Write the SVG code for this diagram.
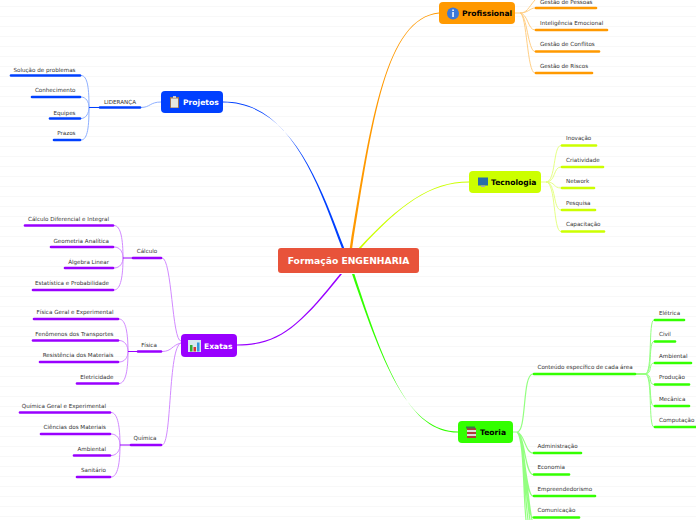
<svg xmlns="http://www.w3.org/2000/svg" width="696" height="520" viewBox="0 0 696 520">
<defs>
<style>
text{font-family:"DejaVu Sans",Verdana,sans-serif}
.t{font-size:5.6px;fill:#333}
.e{text-anchor:end}
.m{text-anchor:middle}
.n{font-size:7.6px;font-weight:bold}
.w{fill:#fff}
.k{fill:#000}
.c{fill:none;stroke-width:1}
.b{fill:none;stroke-width:2.6;stroke-linecap:round}
.blue{stroke:#0040ff}.org{stroke:#ff9900}.lim{stroke:#ccff00}.pur{stroke:#9900ff}.grn{stroke:#33ff00}
.lblue{stroke:#8fb0ff}.lorg{stroke:#ffcf85}.llim{stroke:#e6ff85}.lpur{stroke:#d28aff}.lgrn{stroke:#93ff80}
</style>
<pattern id="grid" width="696" height="10" patternUnits="userSpaceOnUse" y="6"><rect width="696" height="1" fill="#f8f8f8"/></pattern>
</defs>
<rect width="696" height="520" fill="#fff"/>
<rect width="696" height="520" fill="url(#grid)"/>
<g id="connectors">
<path fill="#0040ff" d="M341.800 248C317 180 289 101.400 223 101.400V102.600C289.500 102.600 318.500 180 344.200 248Z"/>
<path fill="#ff9900" d="M349.800 248C371 120 385.500 18 439 12.400V13.600C386 18.500 372.500 120 352.200 248Z"/>
<path fill="#ccff00" d="M358.800 248C399 205 430 181.400 469 181.400V182.600C430 182.600 400.500 205 361.200 248Z"/>
<path fill="#9900ff" d="M340 274C299.500 324.500 280 344.400 237 344.400V345.600C280 345.600 300.500 325.500 342 274Z"/>
<path fill="#33ff00" d="M352 274C384.500 370 410 431.400 458 431.400V432.600C410 432.600 385.500 370 354.400 274Z"/>
<path class="c lblue" d="M141 107.500C150 107.500 150 102 161 102"/>
<path class="c lblue" d="M89 107.500C89 90 88 75.500 81 75.500M89 107.500C89 102 86 97 81 97M89 107.500C89 113 86 118.500 81 118.500M89 107.500C89 125 88 140 81 140"/>
<path class="c lorg" d="M515 13H520M520 13C527 13 528 8 535 0M520 13C528 13 530 8 535 8M520 13C528 14 528 30 535 30M520 13C527 14 528 51.500 535 51.500M520 13C527 14 527 73 535 73"/>
<path class="c llim" d="M541 182H546M546 182C556 182 553 145.500 561 145.500M546 182C556 182 553 167 561 167M546 182C556 182 553 188 561 188M546 182C556 182 553 210 561 210M546 182C556 182 553 231.500 561 231.500"/>
<path class="c lpur" d="M181 341C172 341 172 258 162 258M181 343C172 345 172 351.500 162 351.500M181 343C168 347 172 445 162 445"/>
<path class="c lpur" d="M123 258C123 240 121 225.500 114 225.500M123 258C123 252 120 247 114 247M123 258C123 263 120 268 114 268M123 258C123 275 121 290 114 290"/>
<path class="c lpur" d="M128 351.500C128 334 126 319 119 319M128 351.500C128 346 125 340.500 119 340.500M128 351.500C128 357 125 362 119 362M128 351.500C128 369 126 383.500 119 383.500"/>
<path class="c lpur" d="M120 445C120 428 118 412.500 111 412.500M120 445C120 439 117 434 111 434M120 445C120 450 117 455.500 111 455.500M120 445C120 462 118 477 111 477"/>
<path class="c lgrn" style="stroke-width:1.200" d="M513 432H517M517 432C527 432 522 374 533 374M517 432C525 434 525 453 533 453M517 432C525 435 525 474.500 533 474.500M517 432C525 436 525 496 533 496M517 432C525 437 525 517.500 533 517.500M517 432C525 438 526 490 532 520M517 432C525 438 525 490 530 520M517 432C524 438 524 490 528 520M517 432C524 438 523 490 526 520"/>
<path class="c lgrn" d="M645 374C653 374 648 320 654 320M645 374C653 374 648 341.500 654 341.500M645 374C653 374 648 363 654 363M645 374C653 374 648 384.500 654 384.500M645 374C653 374 648 406 654 406M645 374C653 374 648 427 654 427"/>
<path class="grn" fill="none" stroke-width="1" d="M635 374H645"/>
<path class="pur" fill="none" stroke-width="1" d="M132 258H123M137 351.500H128M130 445H120"/>
<path class="blue" fill="none" stroke-width="1" d="M99 107.500H89"/>
</g>
<g id="central"><rect x="278" y="248" width="141" height="25" rx="3" fill="#e8533a"/><text x="348.500" y="264" class="n w m" style="font-size:9.2px">Formação ENGENHARIA</text></g>
<g id="projetos"><rect x="161" y="91" width="62" height="22" rx="4" fill="#0040ff"/>
<rect x="170" y="97" width="9" height="11" fill="#9a7355"/><rect x="171" y="98.500" width="7" height="9" fill="#e8e8e0"/><rect x="173" y="96" width="3" height="2" fill="#ccc"/>
<text x="183" y="105" class="n w">Projetos</text></g>
<g id="lideranca"><path class="b blue" d="M100 107.500H140"/><text x="120" y="103.500" class="t m">LIDERANÇA</text></g>
<g id="l1"><path class="b blue" d="M11 75.500H80"/><text x="75.500" y="71.500" class="t e">Solução de problemas</text></g>
<g id="l2"><path class="b blue" d="M32 97H80"/><text x="75.500" y="92" class="t e">Conhecimento</text></g>
<g id="l3"><path class="b blue" d="M50 118.500H80"/><text x="75.500" y="114.500" class="t e">Equipes</text></g>
<g id="l4"><path class="b blue" d="M54 140H80"/><text x="75.500" y="135" class="t e">Prazos</text></g>
<g id="profissional"><rect x="439" y="2" width="76" height="22" rx="4" fill="#ff9900"/>
<circle cx="453" cy="13.500" r="6" fill="#3b78d8"/><rect x="452.300" y="12" width="1.500" height="5" fill="#fff"/><rect x="452.300" y="9.500" width="1.500" height="1.500" fill="#fff"/>
<text x="462" y="16" class="n k">Profissional</text></g>
<g id="p1"><path class="b org" d="M536 8H596"/><text x="540" y="3.500" class="t">Gestão de Pessoas</text></g>
<g id="p2"><path class="b org" d="M536 30H607"/><text x="540" y="25" class="t">Inteligência Emocional</text></g>
<g id="p3"><path class="b org" d="M536 51.500H599"/><text x="540" y="46" class="t">Gestão de Conflitos</text></g>
<g id="p4"><path class="b org" d="M536 73H592"/><text x="540" y="68" class="t">Gestão de Riscos</text></g>
<g id="tecnologia"><rect x="469" y="171" width="72" height="22" rx="4" fill="#ccff00"/>
<rect x="478" y="177.500" width="10" height="8" fill="#2a6fa8"/><rect x="481" y="185.500" width="4" height="1.500" fill="#aaa"/>
<text x="491" y="185" class="n k">Tecnologia</text></g>
<g id="t1"><path class="b lim" d="M562 145.500H596"/><text x="566" y="140" class="t">Inovação</text></g>
<g id="t2"><path class="b lim" d="M562 167H603"/><text x="566" y="162" class="t">Criatividade</text></g>
<g id="t3"><path class="b lim" d="M562 188H594"/><text x="566" y="183" class="t">Network</text></g>
<g id="t4"><path class="b lim" d="M562 210H595"/><text x="566" y="205" class="t">Pesquisa</text></g>
<g id="t5"><path class="b lim" d="M562 231.500H604"/><text x="566" y="226" class="t">Capacitação</text></g>
<g id="exatas"><rect x="181" y="334" width="56" height="23" rx="4" fill="#9900ff"/>
<rect x="188" y="340" width="13" height="12" fill="#d8e8f0"/><rect x="190" y="345" width="2.500" height="6.500" fill="#3a3"/><rect x="193.500" y="347" width="2.500" height="4.500" fill="#d33"/><rect x="197" y="342.500" width="2.500" height="9" fill="#39d"/>
<text x="204" y="348.500" class="n w">Exatas</text></g>
<g id="calculo"><path class="b pur" d="M133 258H161"/><text x="147" y="253" class="t m">Cálculo</text></g>
<g id="c1"><path class="b pur" d="M25 225.500H113"/><text x="109" y="221" class="t e">Cálculo Diferencial e Integral</text></g>
<g id="c2"><path class="b pur" d="M51 247H113"/><text x="109" y="242.500" class="t e">Geometria Analítica</text></g>
<g id="c3"><path class="b pur" d="M65 268H113"/><text x="109" y="264" class="t e">Álgebra Linear</text></g>
<g id="c4"><path class="b pur" d="M33 290H113"/><text x="109" y="285" class="t e">Estatística e Probabilidade</text></g>
<g id="fisica"><path class="b pur" d="M138 351.500H161"/><text x="149" y="347" class="t m">Física</text></g>
<g id="f1"><path class="b pur" d="M34 319H118"/><text x="113.500" y="314" class="t e">Física Geral e Experimental</text></g>
<g id="f2"><path class="b pur" d="M33 340.500H118"/><text x="113.500" y="336" class="t e">Fenômenos dos Transportes</text></g>
<g id="f3"><path class="b pur" d="M40 362H118"/><text x="113.500" y="357" class="t e">Resistência dos Materiais</text></g>
<g id="f4"><path class="b pur" d="M77 383.500H118"/><text x="113.500" y="379" class="t e">Eletricidade</text></g>
<g id="quimica"><path class="b pur" d="M131 445H161"/><text x="145" y="440" class="t m">Química</text></g>
<g id="q1"><path class="b pur" d="M20 412.500H110"/><text x="106" y="408" class="t e">Química Geral e Experimental</text></g>
<g id="q2"><path class="b pur" d="M41 434H110"/><text x="106" y="429" class="t e">Ciências dos Materiais</text></g>
<g id="q3"><path class="b pur" d="M74 455.500H110"/><text x="106" y="451" class="t e">Ambiental</text></g>
<g id="q4"><path class="b pur" d="M77 477H110"/><text x="106" y="472" class="t e">Sanitário</text></g>
<g id="teoria"><rect x="458" y="421" width="55" height="22" rx="4" fill="#33ff00"/>
<rect x="467" y="428" width="9" height="10" fill="#b03a3a"/><rect x="467" y="430" width="9" height="2" fill="#ddd"/><rect x="467" y="434" width="9" height="2" fill="#ddd"/><rect x="466" y="426.500" width="9" height="2" fill="#3a7a4a"/>
<text x="480" y="435" class="n k">Teoria</text></g>
<g id="conteudo"><path class="b grn" d="M534 374H635"/><text x="537.500" y="369" class="t">Conteúdo específico de cada área</text></g>
<g id="e1"><path class="b grn" d="M655 320H684"/><text x="659" y="315" class="t">Elétrica</text></g>
<g id="e2"><path class="b grn" d="M655 341.500H675"/><text x="659" y="336" class="t">Civil</text></g>
<g id="e3"><path class="b grn" d="M655 363H691"/><text x="659" y="358" class="t">Ambiental</text></g>
<g id="e4"><path class="b grn" d="M655 384.500H689"/><text x="659" y="379" class="t">Produção</text></g>
<g id="e5"><path class="b grn" d="M655 406H689"/><text x="659" y="401" class="t">Mecânica</text></g>
<g id="e6"><path class="b grn" d="M655 427H696"/><text x="659" y="422" class="t">Computação</text></g>
<g id="o1"><path class="b grn" d="M534 453H581"/><text x="537.500" y="448" class="t">Administração</text></g>
<g id="o2"><path class="b grn" d="M534 474.500H569"/><text x="537.500" y="469" class="t">Economia</text></g>
<g id="o3"><path class="b grn" d="M534 496H595"/><text x="537.500" y="491" class="t">Empreendedorismo</text></g>
<g id="o4"><path class="b grn" d="M534 517.500H579"/><text x="537.500" y="512" class="t">Comunicação</text></g>
</svg>
